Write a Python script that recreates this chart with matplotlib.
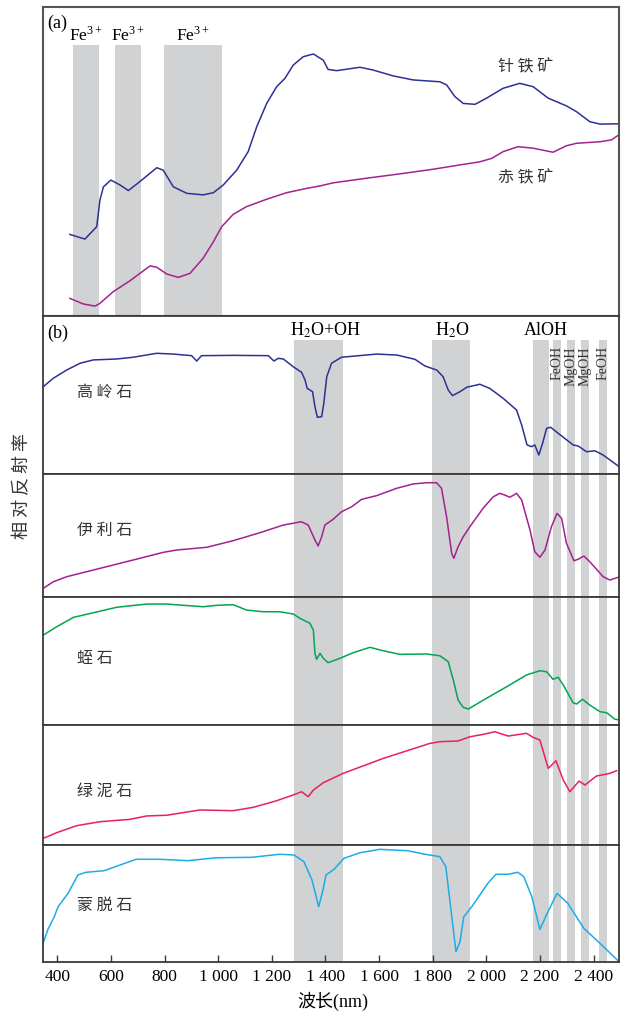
import matplotlib.pyplot as plt

plt.rcParams['font.family'] = ['Liberation Serif', 'Noto Sans CJK SC']
plt.rcParams['mathtext.fontset'] = 'stix'

# wavelength in nm, relative reflectance scaled 0-100 inside each panel
goethite_nm = [447, 503, 547, 559, 572, 600, 634, 665, 708, 771, 795, 833, 883, 944, 982, 1019,
               1069, 1112, 1144, 1181, 1218, 1249, 1280, 1317, 1355, 1392, 1410, 1442, 1529, 1578,
               1653, 1727, 1827, 1852, 1883, 1914, 1958, 2001, 2063, 2125, 2175, 2231, 2299, 2337,
               2386, 2424, 2494]
goethite_r = [26.4, 24.9, 28.9, 37.5, 41.8, 44.0, 42.4, 40.6, 43.5, 48.0, 47.2, 41.8, 39.7, 39.2,
              39.9, 42.4, 47.2, 53.2, 61.3, 68.8, 74.2, 76.9, 81.2, 83.9, 84.8, 82.8, 79.8, 79.4,
              80.5, 79.6, 77.7, 76.4, 75.8, 74.8, 71.0, 68.8, 68.5, 70.5, 73.7, 75.3, 74.2, 70.5,
              68.0, 66.1, 62.9, 62.1, 62.2]

hematite_nm = [447, 497, 541, 559, 609, 671, 708, 746, 771, 808, 851, 895, 944, 982, 1013, 1056,
               1106, 1181, 1255, 1330, 1380, 1429, 1554, 1678, 1802, 1902, 1976, 2020, 2063, 2119,
               2175, 2249, 2299, 2337, 2424, 2467, 2494]
hematite_r = [5.7, 3.9, 3.2, 4.1, 7.9, 11.4, 13.8, 16.2, 15.8, 13.6, 12.5, 13.8, 18.7, 24.0, 28.9,
              32.9, 35.4, 37.8, 39.9, 41.3, 42.1, 43.1, 44.6, 46.0, 47.5, 48.9, 49.9, 51.0, 53.2,
              54.8, 54.3, 53.0, 55.1, 55.9, 56.4, 57.0, 58.6]

kaolinite_nm = [348, 385, 435, 485, 534, 622, 683, 771, 833, 901, 920, 938, 1056, 1187, 1208, 1224,
                1243, 1280, 1311, 1324, 1332, 1352, 1361, 1370, 1386, 1394, 1405, 1423, 1460, 1591,
                1666, 1734, 1771, 1815, 1839, 1858, 1874, 1902, 1927, 1976, 2013, 2063, 2113, 2132,
                2152, 2169, 2181, 2196, 2210, 2225, 2240, 2268, 2324, 2343, 2374, 2405, 2436, 2496]
kaolinite_r = [55.3, 60.6, 65.8, 70.1, 72.2, 72.8, 73.9, 76.4, 75.9, 74.9, 71.5, 74.9, 75.1, 74.9,
               71.5, 73.2, 72.8, 67.9, 64.4, 59.5, 54.2, 52.1, 42.6, 35.9, 36.3, 44.7, 61.6, 70.1,
               73.9, 75.9, 75.3, 72.6, 68.4, 65.8, 61.6, 53.2, 49.6, 52.1, 54.9, 56.8, 54.2, 47.9,
               40.5, 31.0, 18.4, 17.3, 18.4, 12.0, 19.4, 28.9, 29.6, 25.8, 18.4, 17.7, 14.1, 14.7,
               12.0, 4.6]

illite_nm = [348, 385, 435, 559, 683, 795, 845, 957, 1056, 1156, 1243, 1310, 1336, 1361, 1373,
             1386, 1398, 1429, 1460, 1498, 1535, 1591, 1666, 1727, 1777, 1815, 1833, 1852, 1871,
             1879, 1895, 1914, 1939, 1988, 2026, 2051, 2069, 2088, 2113, 2132, 2163, 2181, 2200,
             2219, 2243, 2264, 2281, 2299, 2327, 2343, 2364, 2386, 2436, 2461, 2498]
illite_r = [7.1, 12.4, 16.5, 23.3, 30.1, 36.3, 38.2, 40.4, 45.8, 52.3, 58.5, 61.2, 58.5, 46.3, 41.5,
            49.0, 58.5, 63.2, 69.3, 73.4, 79.4, 82.4, 88.4, 91.9, 92.9, 92.9, 88.4, 65.3, 35.5,
            31.5, 40.9, 49.0, 57.2, 72.1, 81.5, 84.3, 82.9, 81.1, 84.3, 78.9, 54.5, 36.8, 32.3,
            38.2, 57.2, 68.0, 64.0, 43.7, 29.5, 30.7, 33.3, 28.7, 16.5, 13.8, 16.5]

vermiculite_nm = [348, 398, 460, 534, 622, 733, 808, 944, 994, 1056, 1106, 1168, 1230, 1280, 1305,
                  1342, 1355, 1361, 1367, 1380, 1392, 1410, 1454, 1504, 1566, 1616, 1678, 1777,
                  1827, 1858, 1877, 1895, 1914, 1933, 2001, 2076, 2150, 2200, 2225, 2249, 2268,
                  2287, 2324, 2337, 2359, 2386, 2424, 2449, 2480, 2498]
vermiculite_r = [70.3, 76.8, 84.1, 87.7, 92.0, 94.5, 94.5, 92.4, 93.5, 94.0, 89.8, 88.5, 88.5, 86.7,
                 83.4, 79.5, 74.2, 56.0, 51.3, 56.0, 52.1, 48.7, 52.1, 56.5, 60.7, 58.0, 55.2, 55.5,
                 54.1, 49.5, 35.2, 19.5, 13.8, 12.5, 20.9, 29.9, 39.1, 42.4, 41.6, 35.7, 37.3, 31.3,
                 17.4, 16.4, 20.1, 15.6, 10.4, 9.6, 4.5, 3.9]

chlorite_nm = [348, 398, 472, 559, 671, 733, 808, 932, 1056, 1131, 1218, 1280, 1311, 1336, 1355,
               1392, 1466, 1616, 1790, 1827, 1895, 1939, 1988, 2032, 2082, 2150, 2175, 2200, 2231,
               2260, 2287, 2312, 2346, 2368, 2411, 2461, 2486]
chlorite_r = [5.6, 10.3, 16.1, 19.4, 21.4, 24.2, 24.8, 29.2, 28.6, 31.4, 36.9, 41.7, 44.4, 40.3,
              45.8, 51.9, 59.7, 72.2, 84.7, 86.1, 86.7, 90.2, 92.2, 94.4, 90.8, 93.1, 89.7, 87.5,
              63.9, 70.2, 54.2, 44.4, 53.3, 50.0, 57.5, 59.7, 61.9]

montmor_nm = [347, 365, 388, 403, 440, 477, 507, 574, 634, 694, 783, 887, 992, 1126, 1230, 1283,
              1320, 1350, 1375, 1391, 1402, 1432, 1469, 1529, 1603, 1708, 1767, 1827, 1849, 1864,
              1887, 1902, 1916, 1946, 2006, 2036, 2081, 2118, 2140, 2170, 2200, 2230, 2264, 2304,
              2364, 2424, 2495]
montmor_r = [16.0, 27.9, 38.2, 47.3, 58.7, 74.4, 76.7, 78.0, 82.9, 87.8, 87.8, 86.6, 89.1, 89.5,
             92.1, 91.5, 85.7, 70.1, 47.3, 61.5, 74.4, 79.2, 88.6, 93.4, 96.3, 95.1, 92.3, 90.0,
             81.5, 53.0, 8.8, 17.4, 38.7, 47.3, 67.3, 75.0, 75.0, 76.7, 72.9, 55.8, 27.9, 43.0,
             58.7, 50.2, 28.8, 16.0, 0.3]

# absorption bands
fe_bands = [(459, 555), (616, 712), (798, 1014)]
b_bands = [(1283, 1465), (1797, 1939), (2174, 2233), (2249, 2279), (2301, 2331), (2354, 2383),
           (2421, 2450)]
narrow_labels = ['FeOH', 'MgOH', 'MgOH', 'FeOH']

tick_pos = [400, 600, 800, 1000, 1200, 1400, 1600, 1800, 2000, 2200, 2400]
tick_lab = ['400', '600', '800', '1 000', '1 200', '1 400', '1 600', '1 800', '2 000', '2 200',
            '2 400']

rows = [
    ('高 岭 石', kaolinite_nm, kaolinite_r, '#2e3192', 51.3),
    ('伊 利 石', illite_nm, illite_r, '#a3228d', 54.5),
    ('蛭 石', vermiculite_nm, vermiculite_r, '#00a651', 51.6),
    ('绿 泥 石', chlorite_nm, chlorite_r, '#ea1f5e', 44.4),
    ('蒙 脱 石', montmor_nm, montmor_r, '#1cace6', 48.1),
]

band_color = '#d1d2d4'
cjk = ['Noto Sans CJK SC']
xmin, xmax = 346, 2495

fig = plt.figure(figsize=(6.26, 10.15), dpi=100)
gs = fig.add_gridspec(6, 1, left=0.0684, right=0.9888, top=0.9931, bottom=0.0522, hspace=0,
                      height_ratios=[309, 158, 123, 128, 120, 117])

# ---- panel (a)
ax = fig.add_subplot(gs[0])
for lo, hi in fe_bands:
    ax.axvspan(lo, hi, ymin=0, ymax=0.877, color=band_color, lw=0, zorder=0)
    ax.text((lo + hi) / 2, 87.9, 'Fe$^{\\mathregular{3+}}$', ha='center', va='bottom', fontsize=12.5)
ax.plot(goethite_nm, goethite_r, color='#2e3192', lw=1.1)
ax.plot(hematite_nm, hematite_r, color='#a3228d', lw=1.1)
ax.text(2146, 80.7, '针 铁 矿', family=cjk, fontsize=11.5, ha='center', va='center', color='#333333')
ax.text(2146, 44.7, '赤 铁 矿', family=cjk, fontsize=11.5, ha='center', va='center', color='#333333')
ax.text(0.008, 0.948, '(a)', transform=ax.transAxes, fontsize=13, va='center')
ax.set_xlim(xmin, xmax)
ax.set_ylim(0, 100)
ax.set_xticks([])
ax.set_yticks([])
for s in ax.spines.values():
    s.set_color('#555555')
    s.set_linewidth(1.5)

# ---- panel (b), one row per mineral
for i, (name, xs, ys, col, ylab) in enumerate(rows):
    ax = fig.add_subplot(gs[i + 1])
    top = 0.848 if i == 0 else 1
    for lo, hi in b_bands:
        ax.axvspan(lo, hi, ymin=0, ymax=top, color=band_color, lw=0, zorder=0)
    ax.plot(xs, ys, color=col, lw=1.1)
    ax.text(475, ylab, name, family=cjk, fontsize=11.5, va='center', color='#333333')
    ax.set_xlim(xmin, xmax)
    ax.set_ylim(0, 100)
    ax.set_yticks([])
    for s in ax.spines.values():
        s.set_color('#3a3a3a')
        s.set_linewidth(1.3)
    if i == 0:
        ax.text(0.008, 0.892, '(b)', transform=ax.transAxes, fontsize=13, va='center')
        ax.text(1400, 91.1, 'H$_2$O+OH', ha='center', va='center', fontsize=13)
        ax.text(1875, 91.1, 'H$_2$O', ha='center', va='center', fontsize=13)
        ax.text(2221, 91.1, 'AlOH', ha='center', va='center', fontsize=13)
        for (lo, hi), lab in zip(b_bands[3:], narrow_labels):
            ax.text((lo + hi) / 2, 81, lab, rotation=90, ha='center', va='top', fontsize=10,
                    color='#333333')
    if i < len(rows) - 1:
        ax.set_xticks([])
    else:
        ax.set_xticks(tick_pos)
        ax.set_xticklabels(tick_lab, fontsize=12.5)
        ax.tick_params(axis='x', direction='in', length=5, width=1, pad=5, color='#3a3a3a')

fig.text(0.035, 0.521, '相 对 反 射 率', family=cjk, fontsize=13, rotation=90, ha='center',
         va='center', color='#333333')
fig.text(0.532, 0.013, '波长(nm)', fontsize=13, ha='center', va='center')

fig.savefig('out.png', dpi=100)
